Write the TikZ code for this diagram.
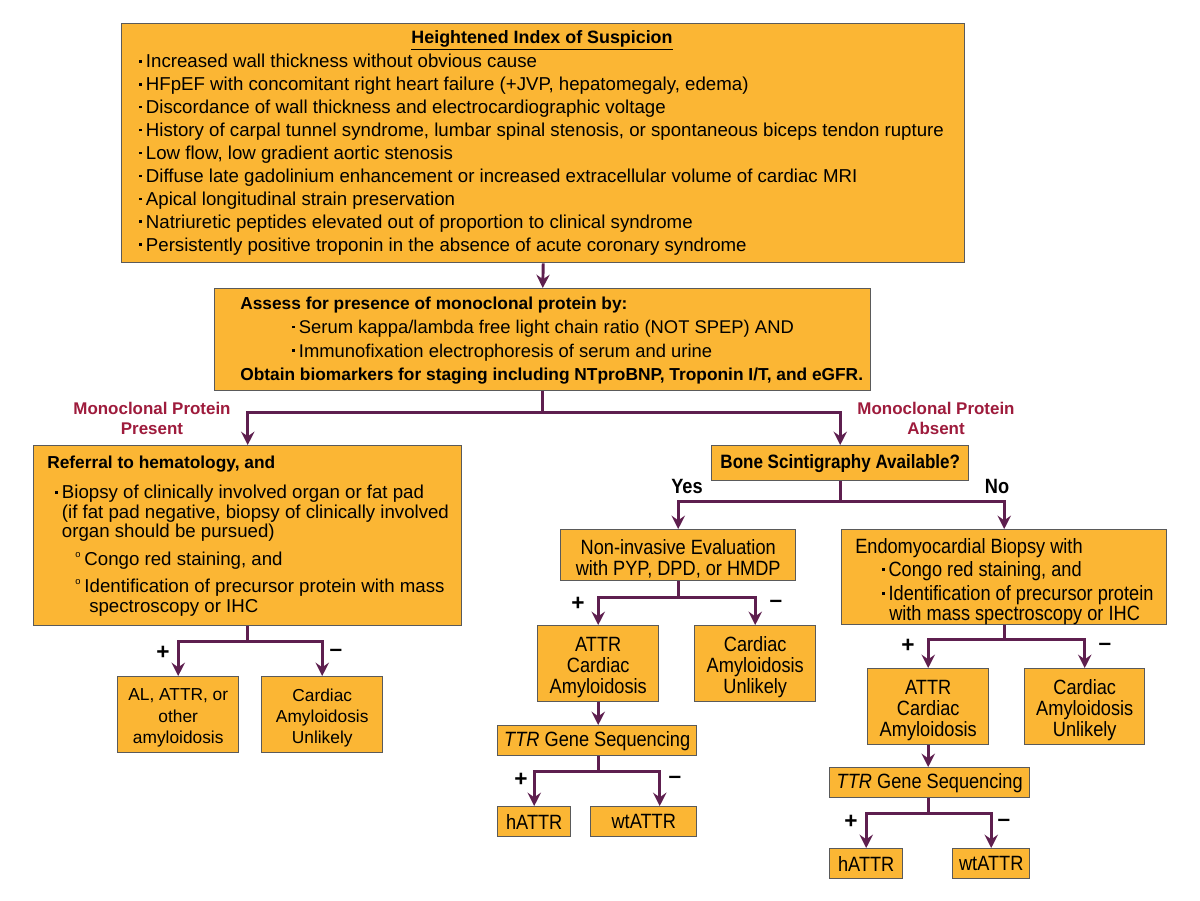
\documentclass[tikz,border=0pt]{standalone}
\usepackage{fontspec}
\setmainfont{Liberation Sans}
\newfontfamily\cond[FakeStretch=0.88]{Liberation Sans}
\usetikzlibrary{arrows.meta}
\definecolor{boxfill}{HTML}{FBB634}
\definecolor{boxline}{HTML}{5A5A5A}
\definecolor{arrcol}{HTML}{5E1F4F}
\definecolor{labcol}{HTML}{9E1B3C}
\newcommand{\bul}{\raisebox{0.28em}{\rule{2pt}{2pt}}\hspace{3pt}}
\newcommand{\subb}{\raisebox{0.42em}{\fontsize{7}{7}\selectfont o}\hspace{3pt}}
\begin{document}
\begin{tikzpicture}[x=0.75pt,y=-0.75pt,
  box/.style={draw=boxline, fill=boxfill, line width=1.1pt, anchor=north west, inner sep=0pt},
  txt/.style={anchor=north west, align=left, inner sep=0pt},
  ctxt/.style={align=center, inner sep=0pt},
  arr/.style={draw=arrcol, line width=2.2pt, -{Stealth[length=10pt,width=10pt,inset=3.5pt]}},
  ln/.style={draw=arrcol, line width=2.2pt},
  pm/.style={inner sep=0pt, font=\fontsize{17}{17}\selectfont\bfseries},
  yn/.style={inner sep=0pt, font=\cond\fontsize{15.5}{16}\selectfont\bfseries},
  lab/.style={align=center, inner sep=0pt, text=labcol, font=\fontsize{12.7}{15}\selectfont\bfseries},
  c3/.style={yshift=-2.5pt, font=\cond\fontsize{15.5}{15.75}\selectfont},
  c1/.style={font=\cond\fontsize{15.5}{16}\selectfont}
]
\useasboundingbox (0,0) rectangle (1200,900);
\fill[white] (0,0) rectangle (1200,900);

% top box
\node[box, minimum width=843*0.75pt, minimum height=239*0.75pt] (top) at (121,23) {};
\node[ctxt, font=\fontsize{13.4}{15}\selectfont\bfseries] (toptitle) at (542,40) {\underline{Heightened Index of Suspicion}};
\node[txt, font=\fontsize{14}{17.2}\selectfont] (toplist) at (139,54) {%
\bul Increased wall thickness without obvious cause\\
\bul HFpEF with concomitant right heart failure (+JVP, hepatomegaly, edema)\\
\bul Discordance of wall thickness and electrocardiographic voltage\\
\bul History of carpal tunnel syndrome, lumbar spinal stenosis, or spontaneous biceps tendon rupture\\
\bul Low flow, low gradient aortic stenosis\\
\bul Diffuse late gadolinium enhancement or increased extracellular volume of cardiac MRI\\
\bul Apical longitudinal strain preservation\\
\bul Natriuretic peptides elevated out of proportion to clinical syndrome\\
\bul Persistently positive troponin in the absence of acute coronary syndrome};

% second box
\node[box, minimum width=656*0.75pt, minimum height=102*0.75pt] (assess) at (214,288) {};
\node[txt, font=\fontsize{13.8}{17.7}\selectfont] (assesstxt) at (240,297) {%
{\fontsize{13}{17.7}\selectfont\bfseries Assess for presence of monoclonal protein by:}\\
\hspace{39pt}\bul Serum kappa/lambda free light chain ratio (NOT SPEP) AND\\
\hspace{39pt}\bul Immunofixation electrophoresis of serum and urine\\
{\fontsize{13}{17.7}\selectfont\bfseries Obtain biomarkers for staging including NTproBNP, Troponin I/T, and eGFR.}};

\draw[arr] (top.south) -- (assess.north);

% left big box
\node[box, minimum width=428*0.75pt, minimum height=180*0.75pt] (refer) at (33,445) {};
\node[txt, font=\fontsize{13}{15}\selectfont\bfseries] (refertitle) at (47,456) {Referral to hematology, and};
\node[txt, font=\fontsize{14}{14.6}\selectfont] (referb) at (55,485) {%
\bul Biopsy of clinically involved organ or fat pad\\
\hspace{5pt}(if fat pad negative, biopsy of clinically involved\\
\hspace{5pt}organ should be pursued)};
\node[txt, font=\fontsize{14}{14.6}\selectfont] (refers1) at (75,552) {\subb Congo red staining, and};
\node[txt, font=\fontsize{14}{14.6}\selectfont] (refers2) at (75,579) {%
\subb Identification of precursor protein with mass\\
\hspace{10.5pt}spectroscopy or IHC};

\node[box, minimum width=121*0.75pt, minimum height=76*0.75pt] (alattr) at (117,676) {};
\node[ctxt, yshift=-2.5pt, font=\fontsize{13}{16}\selectfont] (alattrtxt) at (alattr.center) {AL, ATTR, or\\other\\amyloidosis};
\node[box, minimum width=121*0.75pt, minimum height=76*0.75pt] (cau1) at (261,676) {};
\node[ctxt, yshift=-2.5pt, font=\fontsize{13}{16}\selectfont] (cau1txt) at (cau1.center) {Cardiac\\Amyloidosis\\Unlikely};

% bone scintigraphy
\node[box, minimum width=257*0.75pt, minimum height=35*0.75pt] (bone) at (711,445) {};
\node[ctxt, font=\cond\fontsize{14.5}{15}\selectfont\bfseries] (bonetxt) at (bone.center) {Bone Scintigraphy Available?};

% monoclonal split
\draw[ln] (assess.south) -- ++(0,21) coordinate (split1);
\draw[arr] (split1) -| (refer.north);
\draw[arr] (split1) -| (bone.north);
\node[lab] (mpp) at (152,418) {Monoclonal Protein\\Present};
\node[lab] (mpa) at (936,418) {Monoclonal Protein\\Absent};

% left +/- split
\draw[ln] (refer.south) -- ++(0,15) coordinate (split2);
\draw[arr] (split2) -| (alattr.north);
\draw[arr] (split2) -| (cau1.north);
\node[pm] (p1) at (163,653) {+};
\node[pm] (m1) at (336,653) {\textendash};

% non invasive & endo
\node[box, minimum width=235*0.75pt, minimum height=51*0.75pt] (noninv) at (560,529) {};
\node[ctxt, c3] (noninvtxt) at (noninv.center) {Non-invasive Evaluation\\with PYP, DPD, or HMDP};
\node[box, minimum width=325*0.75pt, minimum height=95*0.75pt] (endo) at (841,529) {};
\node[txt, font=\cond\fontsize{15.5}{14.3}\selectfont] (endotxt) at (855,538) {%
Endomyocardial Biopsy with\\[2.2pt]
\hspace{20pt}\bul Congo red staining, and\\[2.2pt]
\hspace{20pt}\bul Identification of precursor protein\\
\hspace{25.5pt}with mass spectroscopy or IHC};

\draw[ln] (bone.south) -- ++(0,20) coordinate (split3);
\draw[arr] (split3) -| (noninv.north);
\draw[arr] (split3) -| (endo.north);
\node[yn] (yes) at (687,486) {Yes};
\node[yn] (no) at (997,486) {No};

% yes branch
\node[box, minimum width=121*0.75pt, minimum height=76*0.75pt] (attr1) at (537,625) {};
\node[ctxt, c3] (attr1txt) at (attr1.center) {ATTR\\Cardiac\\Amyloidosis};
\node[box, minimum width=121*0.75pt, minimum height=76*0.75pt] (cau2) at (694,625) {};
\node[ctxt, c3] (cau2txt) at (cau2.center) {Cardiac\\Amyloidosis\\Unlikely};
\draw[ln] (noninv.south) -- ++(0,16) coordinate (split4);
\draw[arr] (split4) -| (attr1.north);
\draw[arr] (split4) -| (cau2.north);
\node[pm] (p2) at (578,604) {+};
\node[pm] (m2) at (776,604) {\textendash};

\node[box, minimum width=199*0.75pt, minimum height=30*0.75pt] (ttr1) at (497,725) {};
\node[ctxt, c1] (ttr1txt) at (ttr1.center) {\textit{TTR} Gene Sequencing};
\draw[arr] (attr1.south) -- (ttr1.north -| attr1.south);

\node[box, minimum width=73*0.75pt, minimum height=30*0.75pt] (h1) at (497,806) {};
\node[ctxt, c1] (h1txt) at (h1.center) {hATTR};
\node[box, minimum width=106*0.75pt, minimum height=30*0.75pt] (wt1) at (590,806) {};
\node[ctxt, c1] (wt1txt) at (wt1.center) {wtATTR};
\draw[ln] (ttr1.south -| attr1.south) -- ++(0,15) coordinate (split5);
\draw[arr] (split5) -| (h1.north);
\draw[arr] (split5) -| ([xshift=12pt]wt1.north);
\node[pm] (p3) at (521,780) {+};
\node[pm] (m3) at (675,780) {\textendash};

% no branch
\node[box, minimum width=121*0.75pt, minimum height=76*0.75pt] (attr2) at (867,668) {};
\node[ctxt, c3] (attr2txt) at (attr2.center) {ATTR\\Cardiac\\Amyloidosis};
\node[box, minimum width=120*0.75pt, minimum height=76*0.75pt] (cau3) at (1024,668) {};
\node[ctxt, c3] (cau3txt) at (cau3.center) {Cardiac\\Amyloidosis\\Unlikely};
\draw[ln] (endo.south) -- ++(0,14) coordinate (split6);
\draw[arr] (split6) -| (attr2.north);
\draw[arr] (split6) -| (cau3.north);
\node[pm] (p4) at (908,646) {+};
\node[pm] (m4) at (1105,647) {\textendash};

\node[box, minimum width=200*0.75pt, minimum height=30*0.75pt] (ttr2) at (829,767) {};
\node[ctxt, c1] (ttr2txt) at (ttr2.center) {\textit{TTR} Gene Sequencing};
\draw[arr] (attr2.south) -- (ttr2.north -| attr2.south);

\node[box, minimum width=73*0.75pt, minimum height=30*0.75pt] (h2) at (829,848) {};
\node[ctxt, c1] (h2txt) at (h2.center) {hATTR};
\node[box, minimum width=77*0.75pt, minimum height=30*0.75pt] (wt2) at (952,848) {};
\node[ctxt, c1] (wt2txt) at (wt2.center) {wtATTR};
\draw[ln] (ttr2.south -| attr2.south) -- ++(0,15) coordinate (split7);
\draw[arr] (split7) -| (h2.north);
\draw[arr] (split7) -| (wt2.north);
\node[pm] (p5) at (851,822) {+};
\node[pm] (m5) at (1004,823) {\textendash};
\end{tikzpicture}
\end{document}
